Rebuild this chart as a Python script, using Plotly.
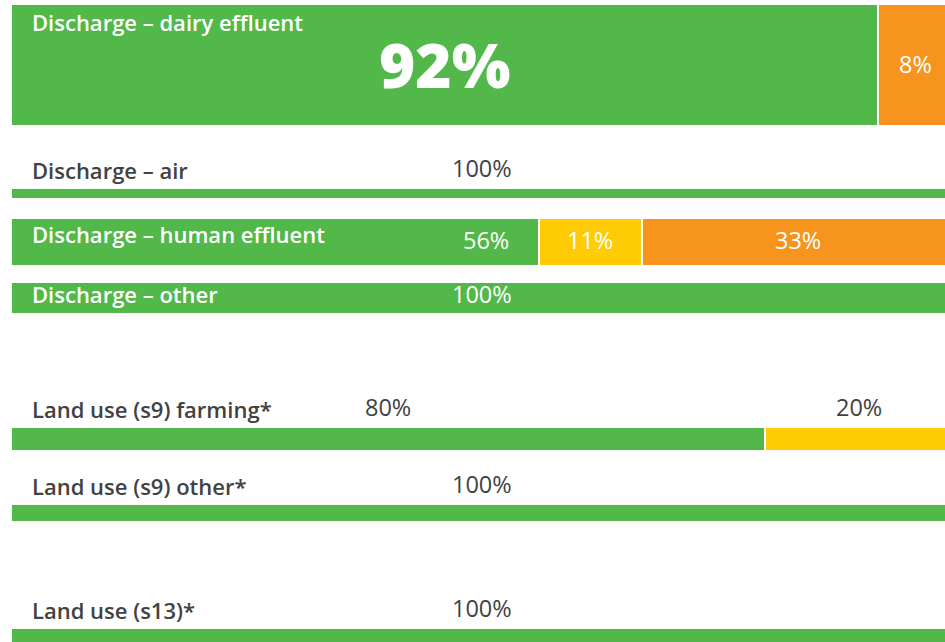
import plotly.graph_objects as go

# ---- data ----
categories = [
    "Discharge – dairy effluent",
    "Discharge – air",
    "Discharge – human effluent",
    "Discharge – other",
    "Land use (s9) farming*",
    "Land use (s9) other*",
    "Land use (s13)*",
]
pct_green = [92, 100, 56, 100, 80, 100, 100]
pct_yellow = [0, 0, 11, 0, 20, 0, 0]
pct_orange = [8, 0, 33, 0, 0, 0, 0]

# ---- layout constants (pixel geometry of the rows) ----
W, H = 945, 642
X0_PX = 11.0          # pixel where 0% sits
PX_PER_PCT = 9.42     # pixels per percentage point
bar_top = [4, 188, 218, 282, 427, 504, 628]
bar_bot = [126, 199, 266, 314, 451, 522, 660]
label_inside = [True, False, True, True, False, False, False]
inside_label_y = [22, None, 234, 294, None, None, None]   # px, category label when inside
inside_pct_y = [64, None, 240, 294, None, None, None]     # px, value labels when inside
LABEL_GAP = 16.5     # px from bar top up to outside category label centre
PCT_GAP = 18.0       # px from bar top up to outside value label centre
big_first = [True, False, False, False, False, False, False]

GREEN = "#52b84a"
YELLOW = "#ffcb05"
ORANGE = "#f7941e"
DARK = "#424242"
FONT = "Open Sans"

x_lo = -X0_PX / PX_PER_PCT
x_hi = x_lo + W / PX_PER_PCT

def px_to_x(px):
    return x_lo + px / PX_PER_PCT

centers = [(t + b) / 2 for t, b in zip(bar_top, bar_bot)]
widths = [b - t for t, b in zip(bar_top, bar_bot)]

fig = go.Figure()
for vals, col in [(pct_green, GREEN), (pct_yellow, YELLOW), (pct_orange, ORANGE)]:
    fig.add_trace(go.Bar(
        x=vals, y=centers, width=widths, orientation="h",
        marker=dict(color=col, line=dict(color="white", width=2)),
        hoverinfo="skip",
    ))

annotations = []
for i, cat in enumerate(categories):
    inside = label_inside[i]
    tcol = "white" if inside else DARK
    if inside:
        cat_y = inside_label_y[i]
    else:
        cat_y = bar_top[i] - LABEL_GAP - 2
    annotations.append(dict(
        x=px_to_x(30), y=cat_y, xref="x", yref="y", text=cat, showarrow=False,
        xanchor="left", yanchor="middle",
        font=dict(family=FONT, size=22, color=tcol, weight=600),
    ))
    cum = 0
    segs = [pct_green[i], pct_yellow[i], pct_orange[i]]
    for j, v in enumerate(segs):
        if v <= 0:
            cum += v
            continue
        xc = cum + v / 2
        # avoid collision with the category label inside the bar
        if inside and j == 0 and not big_first[i] and v < 100:
            xc = cum + v - 5.6
        if big_first[i] and j == 0:
            fnt = dict(family=FONT, size=62, color="white", weight=800)
            yv = inside_pct_y[i]
        else:
            fnt = dict(family=FONT, size=23.5, color=tcol, weight=500)
            yv = inside_pct_y[i] if inside else bar_top[i] - PCT_GAP - 2
            if big_first[i]:
                yv = centers[i] - 1
        annotations.append(dict(
            x=xc, y=yv, xref="x", yref="y", text=f"{v}%", showarrow=False,
            xanchor="center", yanchor="middle", font=fnt,
        ))
        cum += v

fig.update_layout(
    width=W, height=H, barmode="stack", showlegend=False,
    margin=dict(l=0, r=0, t=0, b=0),
    plot_bgcolor="white", paper_bgcolor="white",
    xaxis=dict(range=[x_lo, x_hi], visible=False, fixedrange=True),
    yaxis=dict(range=[H, 0], visible=False, fixedrange=True),
    annotations=annotations,
    bargap=0,
)
fig.write_html(
    "out.html",
    config={"displayModeBar": False},
    post_script="document.body.style.margin='0';document.body.style.overflow='hidden';",
)
